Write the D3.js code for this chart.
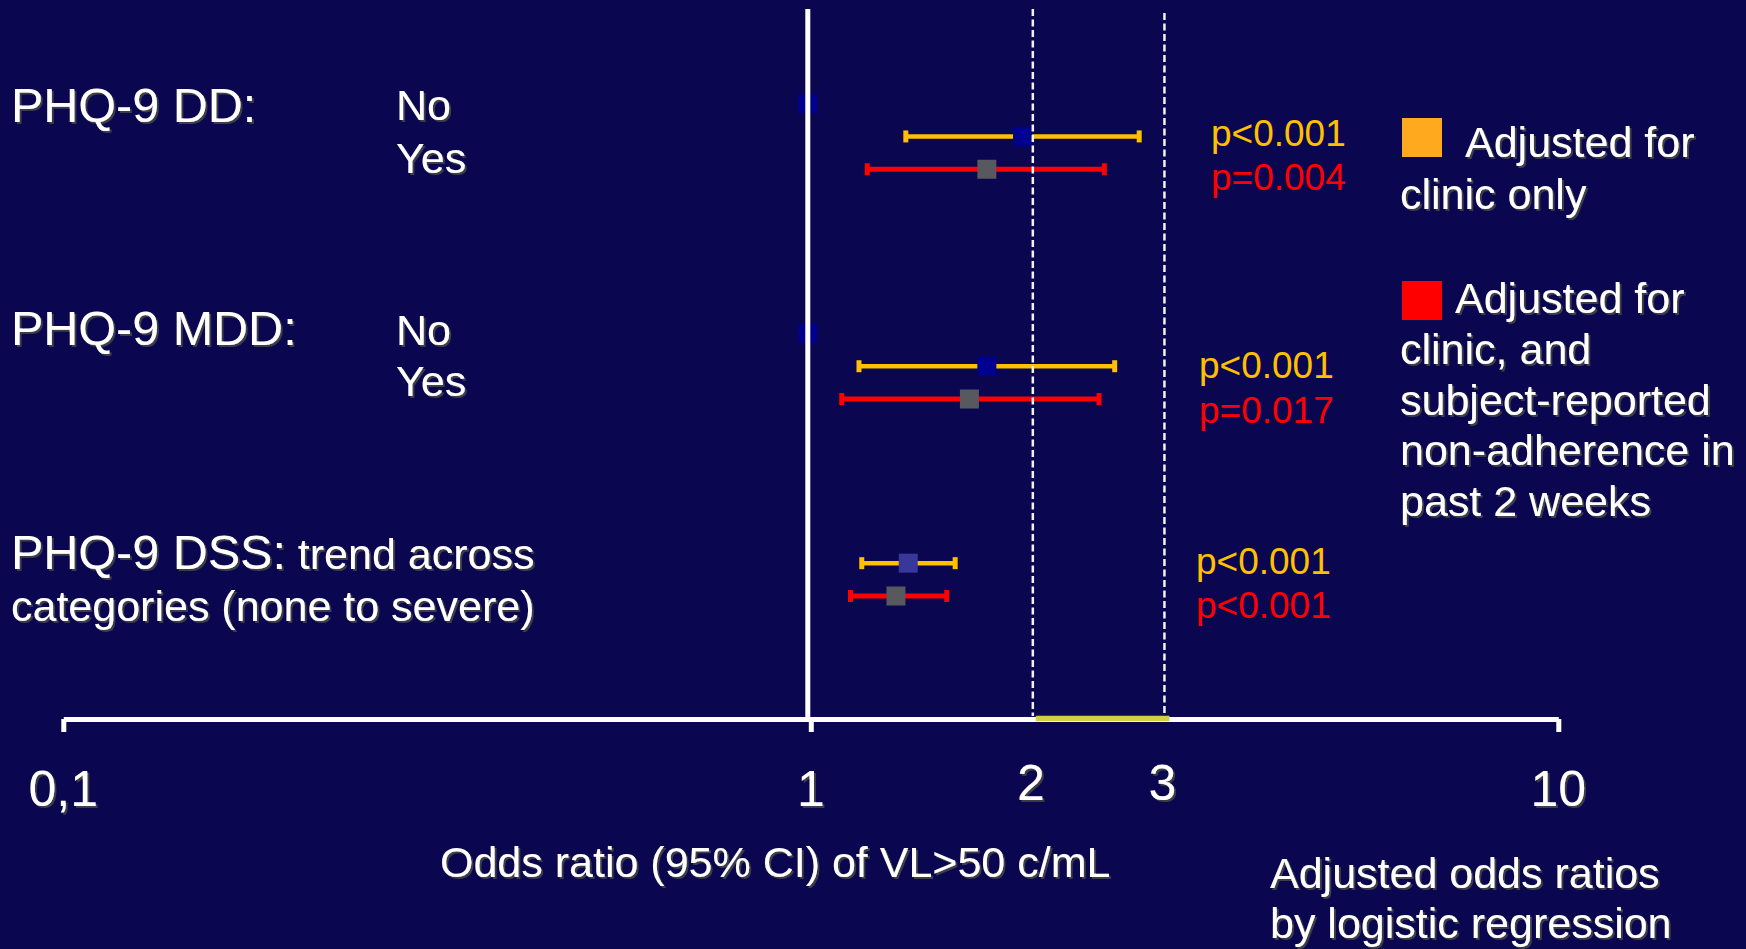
<!DOCTYPE html>
<html>
<head>
<meta charset="utf-8">
<script src="https://cdn.jsdelivr.net/npm/d3@7"></script>
<style>
  html, body { margin: 0; padding: 0; background: #0b0650; }
  svg { display: block; }
  text { font-family: "Liberation Sans", Arial, sans-serif; }
</style>
</head>
<body>
<svg id="chart" width="1746" height="949"></svg>
<script>
// Odds ratios (95% CI) of VL>50 c/mL, two adjustment models
const groups = ["PHQ-9 DD", "PHQ-9 MDD", "PHQ-9 DSS"];
const referenceOR = [1, 1];                 // "No" reference category (DD, MDD)
const clinicOR = [1.92, 1.72, 1.35];
const clinicLo = [1.34, 1.16, 1.17];
const clinicHi = [2.75, 2.55, 1.56];
const adherenceOR = [1.72, 1.63, 1.30];
const adherenceLo = [1.19, 1.10, 1.13];
const adherenceHi = [2.47, 2.43, 1.52];
const clinicP = ["p<0.001", "p<0.001", "p<0.001"];
const adherenceP = ["p=0.004", "p=0.017", "p<0.001"];
const tickValues = [0.1, 1, 10];
const tickLabels = ["0,1", "1", "10"];
const markValues = [2, 3];
const markLabels = ["2", "3"];

// row slots: each group starts at a slot; reference, clinic, adherence follow
const groupStart = [0, 7, 13];

const BG = "#0b0650";
const YELLOW = "#ffc000";
const RED = "#ff0000";
const clinicMarker = ["#00008f", "#00008f", "#38389a"];
const adherenceMarker = "#58585f";

const svg = d3.select("#chart");
svg.append("rect").attr("width", 1746).attr("height", 949).attr("fill", BG);

const defs = svg.append("defs");
const f = defs.append("filter").attr("id", "shadow")
  .attr("x", "-5%").attr("y", "-5%").attr("width", "115%").attr("height", "130%");
f.append("feDropShadow").attr("dx", 2).attr("dy", 2).attr("stdDeviation", 0.6)
  .attr("flood-color", "#3c3c46").attr("flood-opacity", 1);

const x = d3.scaleLog().domain([0.1, 10]).range([63.3, 1558.3]);
const y = d3.scaleLinear().domain([0, 15]).range([103.6, 596]);
const axisY = 719;
const SQ = 19;

// x axis
const axis = d3.axisBottom(x).tickValues(tickValues).tickFormat("")
  .tickSize(13).tickSizeOuter(0);
const gAxis = svg.append("g").attr("transform", `translate(0,${axisY})`).call(axis);
gAxis.select(".domain").attr("stroke", "#fff").attr("stroke-width", 5);
gAxis.selectAll(".tick line").attr("stroke", "#fff").attr("stroke-width", 5);

// highlighted span between 2 and 3 on the axis
svg.append("line")
  .attr("x1", x(markValues[0])).attr("x2", x(markValues[1]) + 2)
  .attr("y1", axisY - 0.5).attr("y2", axisY - 0.5)
  .attr("stroke", "#d4cf3f").attr("stroke-width", 5.5);

// tick labels
const labelG = svg.append("g").attr("fill", "#fff").attr("font-size", 50)
  .attr("text-anchor", "middle").attr("filter", "url(#shadow)");
labelG.selectAll("text.t").data(tickValues).join("text").attr("class", "t")
  .attr("x", d => x(d)).attr("y", 806).text((d, i) => tickLabels[i]);
labelG.selectAll("text.m").data(markValues).join("text").attr("class", "m")
  .attr("x", d => x(d) - 5).attr("y", 800).text((d, i) => markLabels[i]);

// reference markers (OR = 1)
const refRows = referenceOR.map((v, i) => ({ v, slot: groupStart[i] }));
svg.append("g").selectAll("rect").data(refRows).join("rect")
  .attr("x", d => x(d.v) - 3 - SQ / 2).attr("y", d => y(d.slot) - SQ / 2)
  .attr("width", SQ).attr("height", SQ).attr("fill", "#00008f");

// confidence intervals
function drawCI(or, lo, hi, offset, color, markerFill, width) {
  const rows = or.map((v, i) => ({ v, lo: lo[i], hi: hi[i], slot: groupStart[i] + offset, i }));
  const g = svg.append("g");
  g.selectAll("line.ci").data(rows).join("line").attr("class", "ci")
    .attr("x1", d => x(d.lo)).attr("x2", d => x(d.hi))
    .attr("y1", d => y(d.slot)).attr("y2", d => y(d.slot))
    .attr("stroke", color).attr("stroke-width", width);
  ["lo", "hi"].forEach(k => {
    g.selectAll("line.cap-" + k).data(rows).join("line").attr("class", "cap-" + k)
      .attr("x1", d => x(d[k])).attr("x2", d => x(d[k]))
      .attr("y1", d => y(d.slot) - 6).attr("y2", d => y(d.slot) + 6)
      .attr("stroke", color).attr("stroke-width", 5);
  });
  g.selectAll("rect").data(rows).join("rect")
    .attr("x", d => x(d.v) - SQ / 2).attr("y", d => y(d.slot) - SQ / 2)
    .attr("width", SQ).attr("height", SQ)
    .attr("fill", d => typeof markerFill === "string" ? markerFill : markerFill[d.i]);
}
drawCI(clinicOR, clinicLo, clinicHi, 1, YELLOW, clinicMarker, 4.5);
drawCI(adherenceOR, adherenceLo, adherenceHi, 2, RED, adherenceMarker, 5);

// reference lines
svg.append("line").attr("x1", x(1) - 3).attr("x2", x(1) - 3)
  .attr("y1", 9).attr("y2", axisY)
  .attr("stroke", "#fff").attr("stroke-width", 5);
svg.append("g").selectAll("line").data(markValues).join("line")
  .attr("x1", d => x(d) - 3).attr("x2", d => x(d) - 3)
  .attr("y1", (d, i) => i === 0 ? 9 : 13).attr("y2", axisY - 3)
  .attr("stroke", "#f2f2f2").attr("stroke-width", 2.5)
  .attr("stroke-dasharray", "7,3.5");

// row labels
const txt = svg.append("g").attr("fill", "#fff").attr("filter", "url(#shadow)");
function label(str, tx, ty, size, anchor) {
  return txt.append("text").attr("x", tx).attr("y", ty).attr("font-size", size)
    .attr("text-anchor", anchor || "start").text(str);
}
label(groups[0] + ":", 11, 122, 48.5);
label("No", 396, 120, 43);
label("Yes", 396, 172.5, 43);
label(groups[1] + ":", 11, 345, 48.5);
label("No", 396, 345, 43);
label("Yes", 396, 396, 43);
const dss = label(groups[2] + ":", 11, 569, 48.5);
dss.append("tspan").attr("font-size", 43).text(" trend across");
label("categories (none to severe)", 11, 621, 43);

// p-values
const pPos = [[1211, 146, 190], [1199, 377.5, 423], [1196, 573.5, 618]];
const pG = svg.append("g").attr("font-size", 37);
pG.selectAll("text.pc").data(clinicP).join("text").attr("class", "pc")
  .attr("x", (d, i) => pPos[i][0]).attr("y", (d, i) => pPos[i][1])
  .attr("fill", YELLOW).text(d => d);
pG.selectAll("text.pa").data(adherenceP).join("text").attr("class", "pa")
  .attr("x", (d, i) => pPos[i][0]).attr("y", (d, i) => pPos[i][2])
  .attr("fill", RED).text(d => d);

// legend
svg.append("rect").attr("x", 1402).attr("y", 118).attr("width", 40).attr("height", 39)
  .attr("fill", "#ffa91e");
svg.append("rect").attr("x", 1402).attr("y", 281).attr("width", 40).attr("height", 39)
  .attr("fill", RED);
label("Adjusted for", 1465, 157, 43);
label("clinic only", 1400, 209, 43);
label("Adjusted for", 1455, 313, 43);
["clinic, and", "subject-reported", "non-adherence in", "past 2 weeks"]
  .forEach((s, i) => label(s, 1400, 364 + i * 50.5, 43));

// axis title and note
label("Odds ratio (95% CI) of VL>50 c/mL", 440, 877, 43);
label("Adjusted odds ratios", 1270, 887.5, 43);
label("by logistic regression", 1270, 937.5, 43);
</script>
</body>
</html>
